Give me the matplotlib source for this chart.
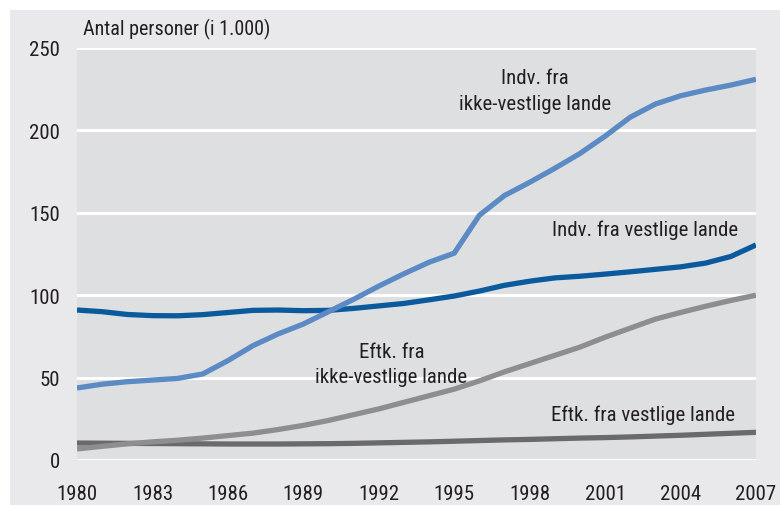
import matplotlib
matplotlib.use('Agg')
import matplotlib.pyplot as plt
from matplotlib import font_manager
from matplotlib.patches import Rectangle

years = list(range(1980, 2008))

indv_ikke_vestlige = [43.7, 46.0, 47.5, 48.5, 49.5, 52.2, 60.3, 69.4, 76.5, 82.5,
                      90.0, 97.5, 105.5, 113.0, 120.0, 125.5, 148.5, 160.5, 168.5, 177.0,
                      186.0, 196.5, 208.0, 216.0, 221.0, 224.5, 227.5, 231.0]
indv_vestlige = [91.0, 90.0, 88.3, 87.6, 87.5, 88.2, 89.5, 90.8, 91.0, 90.6,
                 90.8, 92.0, 93.5, 95.0, 97.2, 99.5, 102.5, 106.0, 108.5, 110.5,
                 111.5, 112.8, 114.2, 115.7, 117.2, 119.5, 123.5, 130.5]
eftk_ikke_vestlige = [6.7, 8.3, 9.8, 11.0, 12.0, 13.3, 14.8, 16.3, 18.5, 21.0,
                      24.0, 27.5, 31.0, 35.0, 39.0, 43.0, 48.0, 53.5, 58.5, 63.5,
                      68.5, 74.5, 80.0, 85.5, 89.5, 93.3, 96.8, 100.0]
eftk_vestlige = [10.3, 10.2, 10.1, 10.0, 9.9, 9.8, 9.7, 9.7, 9.7, 9.8,
                 9.9, 10.1, 10.4, 10.7, 11.0, 11.4, 11.8, 12.2, 12.5, 12.9,
                 13.3, 13.6, 14.0, 14.5, 15.0, 15.6, 16.2, 16.8]

y_ticks = [0, 50, 100, 150, 200, 250]
x_ticks = list(range(1980, 2008, 3))

# pick a condensed font if there is one
available = {f.name for f in font_manager.fontManager.ttflist}
font = 'DejaVu Sans'
for name in ['Liberation Sans Narrow', 'Roboto Condensed', 'Open Sans Condensed', 'Liberation Sans']:
    if name in available:
        font = name
        break
plt.rcParams['font.family'] = [font, 'DejaVu Sans']

txt = '#231f20'

fig = plt.figure(figsize=(7.82, 5.06), dpi=100, facecolor='white')
fig.patches.append(Rectangle((10 / 782, 0), 770 / 782, 495 / 506, transform=fig.transFigure,
                             facecolor='#e9e9eb', edgecolor='none', zorder=-10))

ax = fig.add_axes([77 / 782, 45 / 506, 679 / 782, 412 / 506])
ax.set_facecolor('#dedfe1')

ax.plot(years, eftk_vestlige, color='#6a6a6d', lw=3.8, solid_capstyle='butt', zorder=3)
ax.plot(years, eftk_ikke_vestlige, color='#8e8e91', lw=3.8, solid_capstyle='butt', zorder=3)
ax.plot(years, indv_vestlige, color='#0b5a9e', lw=3.8, solid_capstyle='butt', zorder=4)
ax.plot(years, indv_ikke_vestlige, color='#5b8ac4', lw=3.8, solid_capstyle='butt', zorder=4)

ax.set_xlim(1980, 2007)
ax.set_ylim(0, 250)
ax.set_yticks(y_ticks)
ax.set_xticks(x_ticks)
ax.grid(axis='y', color='white', lw=2.2)
ax.set_axisbelow(True)
for s in ax.spines.values():
    s.set_visible(False)
ax.tick_params(length=0, labelsize=15, colors=txt)
ax.tick_params(axis='y', pad=12)
ax.tick_params(axis='x', pad=17)

ax.text(83 / 782, 1 - 29 / 506, 'Antal personer (i 1.000)', transform=fig.transFigure,
        fontsize=14.5, color=txt, va='center', ha='left')

ax.text(1998.2, 224, 'Indv. fra\nikke-vestlige lande', fontsize=15, color=txt,
        ha='center', va='center', linespacing=1.45)
ax.text(2002.6, 140, 'Indv. fra vestlige lande', fontsize=15, color=txt,
        ha='center', va='center')
ax.text(1992.5, 58.3, 'Eftk. fra\nikke-vestlige lande', fontsize=15, color=txt,
        ha='center', va='center', linespacing=1.45)
ax.text(2002.5, 28, 'Eftk. fra vestlige lande', fontsize=15, color=txt,
        ha='center', va='center')

fig.savefig('out.png', dpi=100, facecolor=fig.get_facecolor())
